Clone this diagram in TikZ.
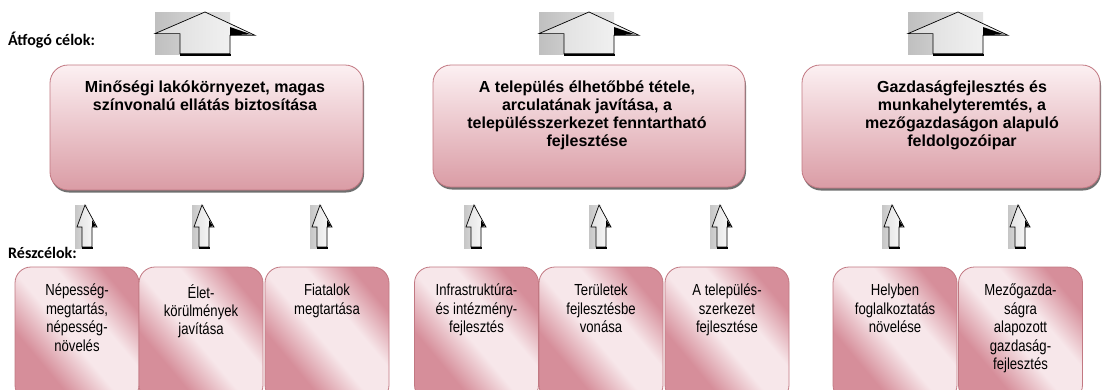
\documentclass[tikz,border=0pt]{standalone}
\usepackage{fontspec}
\setmainfont{Liberation Sans}
\newfontfamily\arialfont{Liberation Sans}
\newfontfamily\narrowfont[FakeStretch=0.82]{Liberation Sans}
\newfontfamily\calibfont{Carlito}
\usetikzlibrary{shadows}
\definecolor{rborder}{HTML}{C27882}
\definecolor{rtop}{HTML}{FCF0F2}
\definecolor{rbot}{HTML}{DA9CA5}
\definecolor{rdark}{HTML}{D68E9A}
\definecolor{rlight}{HTML}{F7E7EA}
\pgfdeclarehorizontalshading{rosediag}{100bp}{color(0bp)=(rdark); color(32bp)=(rdark); color(47bp)=(rlight); color(60bp)=(rlight); color(74bp)=(rdark); color(100bp)=(rdark)}
\tikzset{
  topbox/.style={draw=rborder, line width=0.8pt, rounded corners=18pt,
    top color=rtop, bottom color=rbot, inner sep=0pt,
    drop shadow={shadow xshift=1pt, shadow yshift=-2.5pt, fill=black!75, opacity=0.75}},
  subbox/.style={draw=rborder, line width=0.8pt, rounded corners=16pt,
    shading=rosediag, shading angle=40, inner sep=0pt,
    minimum width=124pt, minimum height=134pt},
  toptext/.style={align=center, inner sep=0pt, anchor=north,
    font=\arialfont\bfseries\fontsize{16}{18}\selectfont},
  subtext/.style={align=center, inner sep=0pt, anchor=north,
    font=\narrowfont\fontsize{16}{18.4}\selectfont},
  lbl/.style={inner sep=0pt, anchor=base west, font=\calibfont\bfseries\fontsize{16}{19}\selectfont},
  bigarrow/.pic={
    \fill[left color=gray!50, right color=gray!22] (-50,0) rectangle (25,42);
    \draw[line width=0.7pt, left color=gray!28, right color=gray!6, line join=miter]
      (0,0) -- (50,23.3) -- (25,23.3) -- (25,41.6) -- (-25,41.6) -- (-25,21.6) -- (-50,21.6) -- cycle;
    \fill[black] (25,15) -- (25,23.3) -- (46,22.3) -- cycle;
    \draw[line width=2pt] (-25,42.6) -- (26,42.6);
  },
  smallarrow/.pic={
    \fill[left color=gray!45, right color=gray!25] (-10,0) rectangle (2,43);
    \draw[line width=0.7pt, left color=gray!22, right color=gray!4, line join=miter]
      (0,0) -- (12,22) -- (7,22) -- (7,42) -- (-3,42) -- (-3,22) -- (-8,22) -- cycle;
    \fill[black] (7,15) -- (7,22) -- (11,21) -- cycle;
    \draw[line width=2pt] (-3,43) -- (8,43);
  }
}
\begin{document}
\begin{tikzpicture}[x=1pt,y=-1pt]
\useasboundingbox (0,0) rectangle (1102,389);
\clip (0,0) rectangle (1102,389);
\fill[white] (0,0) rectangle (1102,389);

% big arrows
\pic at (205,12) {bigarrow};
\pic at (589,12) {bigarrow};
\pic at (958,12) {bigarrow};

% top boxes
\node[topbox, minimum width=313pt, minimum height=125pt] (tA) at (206.5,127.5) {};
\node[topbox, minimum width=312pt, minimum height=122pt] (tB) at (589,126) {};
\node[topbox, minimum width=298pt, minimum height=123pt] (tC) at (951,126.5) {};
\node[toptext] (tAt) at (205,81) {Minőségi lakókörnyezet, magas\\színvonalú ellátás biztosítása};
\node[toptext] (tBt) at (587,81) {A település élhetőbbé tétele,\\arculatának javítása, a\\településszerkezet fenntartható\\fejlesztése};
\node[toptext] (tCt) at (962,81) {Gazdaságfejlesztés és\\munkahelyteremtés, a\\mezőgazdaságon alapuló\\feldolgozóipar};

% small arrows
\foreach \ax in {85,202,320,474,599,720,892,1018}
  \pic at (\ax,205) {smallarrow};

% bottom boxes
\node[subbox] (L1) at (77,334) {};
\node[subbox] (L2) at (201,334) {};
\node[subbox] (L3) at (327,334) {};
\node[subbox] (M1) at (476.5,334) {};
\node[subbox] (M2) at (601,334) {};
\node[subbox] (M3) at (727,334) {};
\node[subbox] (R1) at (895,334) {};
\node[subbox] (R2) at (1020.5,334) {};

\node[subtext] (L1t) at (L1.center |- 0,284) {Népesség-\\megtartás,\\népesség-\\növelés};
\node[subtext] (L2t) at (L2.center |- 0,284) {Élet-\\körülmények\\javítása};
\node[subtext] (L3t) at (L3.center |- 0,284) {Fiatalok\\megtartása};
\node[subtext] (M1t) at (M1.center |- 0,284) {Infrastruktúra-\\és intézmény-\\fejlesztés};
\node[subtext] (M2t) at (M2.center |- 0,284) {Területek\\fejlesztésbe\\vonása};
\node[subtext] (M3t) at (M3.center |- 0,284) {A település-\\szerkezet\\fejlesztése};
\node[subtext] (R1t) at (R1.center |- 0,284) {Helyben\\foglalkoztatás\\növelése};
\node[subtext] (R2t) at (R2.center |- 0,284) {Mezőgazda-\\ságra\\alapozott\\gazdaság-\\fejlesztés};

% labels
\node[lbl] (atfogo) at (8,45) {Átfogó célok:};
\node[lbl] (reszcel) at (8,258) {Részcélok:};
\end{tikzpicture}
\end{document}
